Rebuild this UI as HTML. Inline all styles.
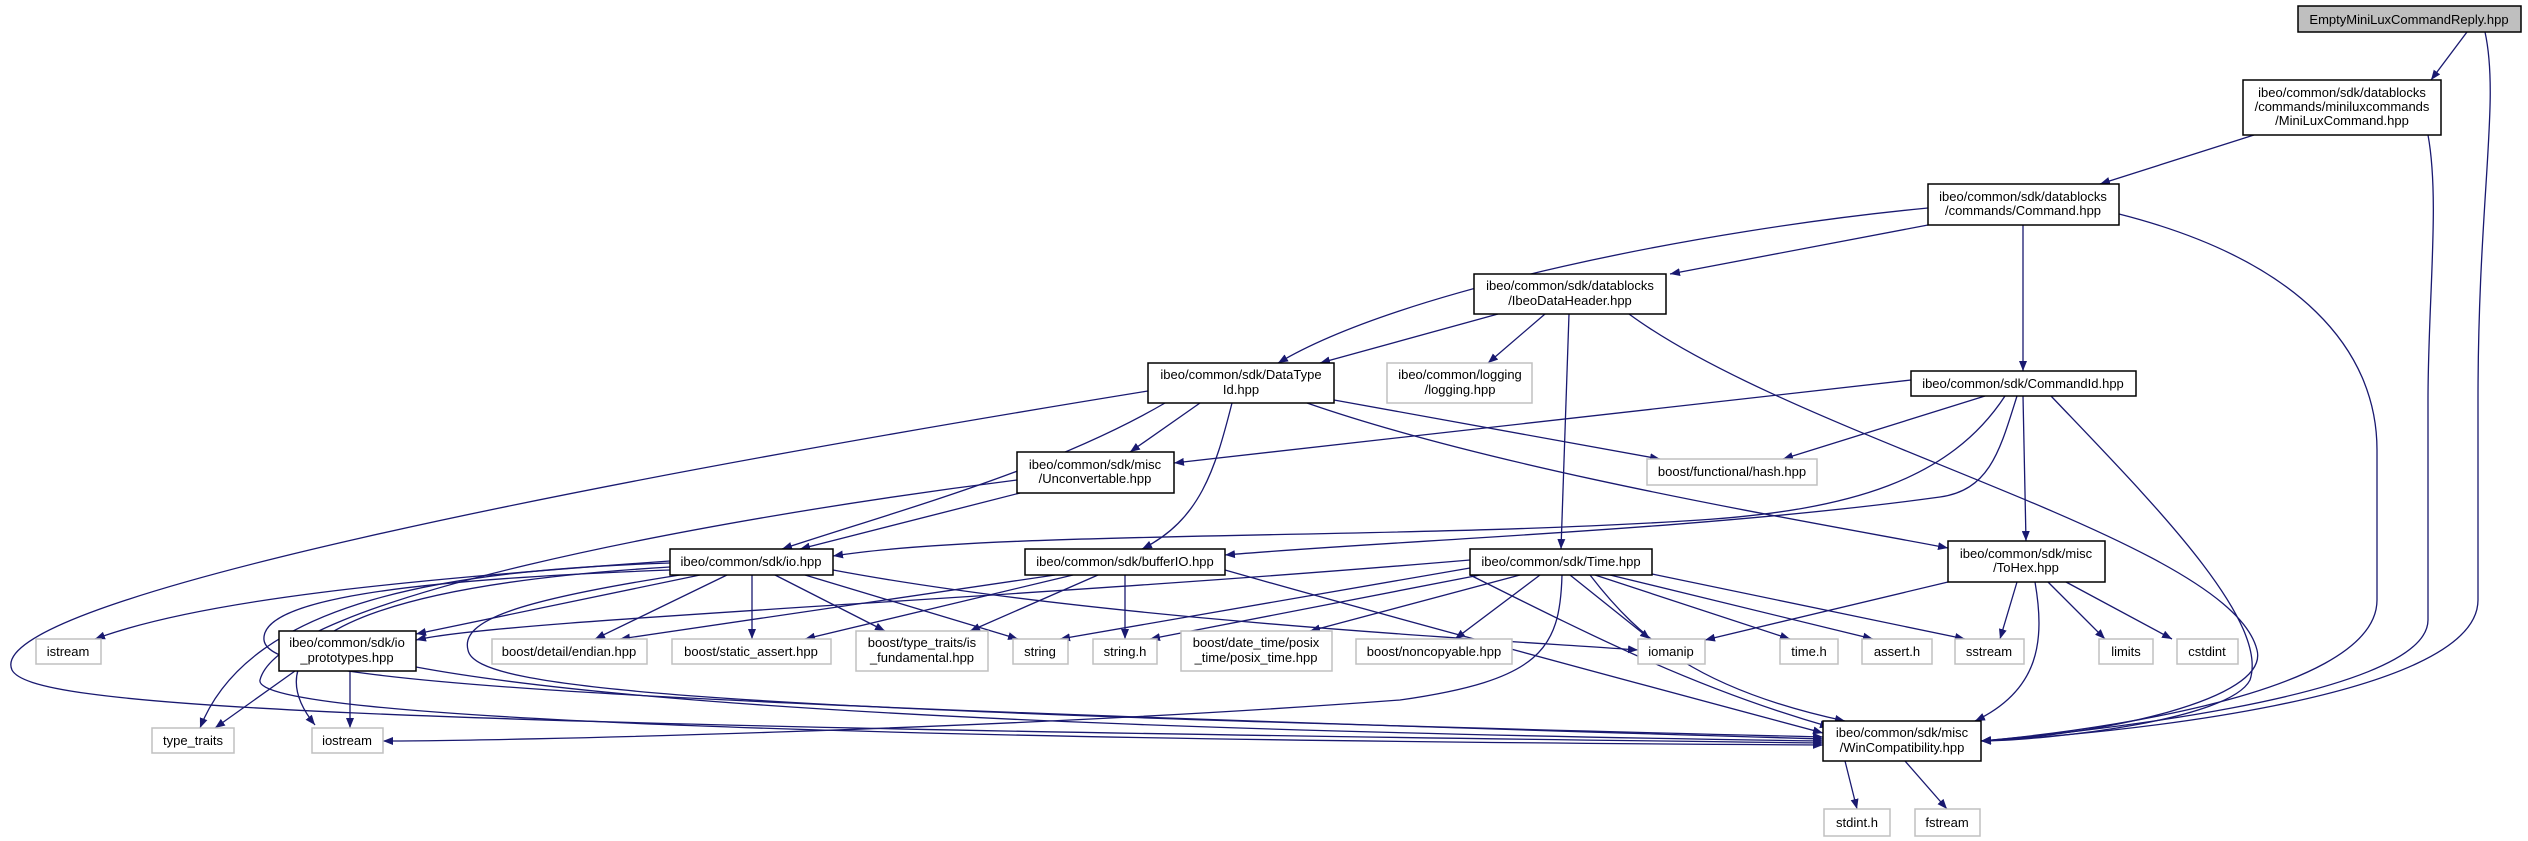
<!DOCTYPE html>
<html><head><meta charset="utf-8"><style>
html,body{margin:0;padding:0;background:#fff;}
svg{display:block;}
text{font-family:"Liberation Sans",sans-serif;font-size:13px;fill:#000;text-anchor:middle;}
.n{fill:#fff;stroke:#000;stroke-width:1.5;}
.g{fill:#fff;stroke:#c0c0c0;stroke-width:1.5;}
.e{fill:none;stroke:#191970;stroke-width:1.3;marker-end:url(#a);}
</style></head><body>
<svg width="2528" height="841" viewBox="0 0 2528 841" xmlns="http://www.w3.org/2000/svg">
<defs><marker id="a" viewBox="0 0 10 8" refX="10" refY="4" markerWidth="10" markerHeight="8" markerUnits="userSpaceOnUse" orient="auto"><path d="M0,0 L10,4 L0,8 z" fill="#191970"/></marker></defs>
<g>
<path class="e" d="M2467,32 L2431,80"/>
<path class="e" d="M2485,32 C2500,100 2478,200 2478,400 L2478,600 C2478,700 2100,735 1981,741"/>
<path class="e" d="M2254,135 L2100,184"/>
<path class="e" d="M2428,135 C2440,200 2428,300 2428,400 L2428,620 C2428,700 2050,735 1981,741"/>
<path class="e" d="M1928,208 C1700,230 1400,290 1278,363"/>
<path class="e" d="M1928,225 L1670,274"/>
<path class="e" d="M2023,225 L2023,371"/>
<path class="e" d="M2119,214 C2300,260 2377,350 2377,450 L2377,600 C2377,700 2050,735 1981,741"/>
<path class="e" d="M1498,314 L1320,363"/>
<path class="e" d="M1545,314 L1488,363"/>
<path class="e" d="M1569,314 L1561,549"/>
<path class="e" d="M1629,314 C1800,440 2230,540 2257,650 C2270,700 2100,735 1981,741"/>
<path class="e" d="M1334,400 L1660,459"/>
<path class="e" d="M1307,403 C1500,470 1800,520 1948,548"/>
<path class="e" d="M1200,403 L1130,452"/>
<path class="e" d="M1165,403 C1050,470 900,510 782,549"/>
<path class="e" d="M1232,403 C1215,470 1200,520 1142,549"/>
<path class="e" d="M1148,391 C600,480 -20,600 12,670 C30,705 300,725 1823,743"/>
<path class="e" d="M1020,493 L800,549"/>
<path class="e" d="M1017,480 C700,520 280,600 260,680 C250,720 900,740 1823,745"/>
<path class="e" d="M1911,380 L1174,463"/>
<path class="e" d="M1985,396 L1783,459"/>
<path class="e" d="M2005,396 C1950,480 1850,510 1700,520 C1400,540 1000,530 833,556"/>
<path class="e" d="M2017,396 C2000,450 1990,490 1940,497 C1700,530 1400,540 1225,555"/>
<path class="e" d="M2023,396 L2026,541"/>
<path class="e" d="M2051,396 C2150,500 2270,620 2250,680 C2230,720 2050,740 1981,741"/>
<path class="e" d="M1948,582 L1705,640"/>
<path class="e" d="M2017,582 L2000,639"/>
<path class="e" d="M2048,582 L2105,639"/>
<path class="e" d="M2066,582 L2172,639"/>
<path class="e" d="M2035,582 C2045,640 2040,690 1975,721"/>
<path class="e" d="M670,561 C400,580 200,600 95,639"/>
<path class="e" d="M700,575 L416,634"/>
<path class="e" d="M727,575 L595,639"/>
<path class="e" d="M752,575 L752,639"/>
<path class="e" d="M775,575 L885,631"/>
<path class="e" d="M805,575 L1018,639"/>
<path class="e" d="M833,570 C1100,620 1500,640 1638,650"/>
<path class="e" d="M670,563 C450,570 250,600 200,728"/>
<path class="e" d="M670,567 C450,580 230,620 315,725"/>
<path class="e" d="M670,570 C400,580 260,600 264,640 C268,680 500,700 1823,739"/>
<path class="e" d="M680,575 C520,600 460,620 468,650 C475,690 700,710 1823,737"/>
<path class="e" d="M1055,575 L620,639"/>
<path class="e" d="M1073,575 L805,639"/>
<path class="e" d="M1098,575 L970,631"/>
<path class="e" d="M1125,575 L1125,639"/>
<path class="e" d="M1225,570 C1400,620 1700,700 1823,733"/>
<path class="e" d="M1470,560 C1000,600 500,620 416,640"/>
<path class="e" d="M1562,575 C1560,650 1540,680 1400,700 C1000,730 500,741 383,741"/>
<path class="e" d="M1470,568 L1060,639"/>
<path class="e" d="M1480,575 L1150,639"/>
<path class="e" d="M1520,575 L1310,631"/>
<path class="e" d="M1540,575 L1455,639"/>
<path class="e" d="M1570,575 L1650,639"/>
<path class="e" d="M1595,575 L1790,639"/>
<path class="e" d="M1610,575 L1873,639"/>
<path class="e" d="M1652,574 L1965,639"/>
<path class="e" d="M1590,575 C1640,640 1700,690 1845,721"/>
<path class="e" d="M1470,575 C1600,640 1700,690 1830,727"/>
<path class="e" d="M295,671 L215,728"/>
<path class="e" d="M350,671 L350,728"/>
<path class="e" d="M416,667 C700,720 1400,735 1823,741"/>
<path class="e" d="M1845,761 L1857,809"/>
<path class="e" d="M1905,761 L1947,809"/>
</g>
<g>
<rect x="2298" y="6" width="223" height="26" fill="#bfbfbf" stroke="#000" stroke-width="1.5"/><text x="2409" y="24">EmptyMiniLuxCommandReply.hpp</text>
<rect class="n" x="2243" y="80" width="198" height="55"/><text x="2342" y="97">ibeo/common/sdk/datablocks</text><text x="2342" y="111">/commands/miniluxcommands</text><text x="2342" y="125">/MiniLuxCommand.hpp</text>
<rect class="n" x="1928" y="184" width="191" height="41"/><text x="2023" y="201">ibeo/common/sdk/datablocks</text><text x="2023" y="215">/commands/Command.hpp</text>
<rect class="n" x="1474" y="274" width="192" height="40"/><text x="1570" y="290">ibeo/common/sdk/datablocks</text><text x="1570" y="305">/IbeoDataHeader.hpp</text>
<rect class="n" x="1148" y="363" width="186" height="40"/><text x="1241" y="379">ibeo/common/sdk/DataType</text><text x="1241" y="394">Id.hpp</text>
<rect class="g" x="1387" y="363" width="145" height="40"/><text x="1460" y="379">ibeo/common/logging</text><text x="1460" y="394">/logging.hpp</text>
<rect class="n" x="1911" y="371" width="225" height="25"/><text x="2023" y="388">ibeo/common/sdk/CommandId.hpp</text>
<rect class="g" x="1647" y="459" width="170" height="26"/><text x="1732" y="476">boost/functional/hash.hpp</text>
<rect class="n" x="1017" y="452" width="157" height="41"/><text x="1095" y="469">ibeo/common/sdk/misc</text><text x="1095" y="483">/Unconvertable.hpp</text>
<rect class="n" x="1948" y="541" width="157" height="41"/><text x="2026" y="558">ibeo/common/sdk/misc</text><text x="2026" y="572">/ToHex.hpp</text>
<rect class="n" x="670" y="549" width="163" height="26"/><text x="751" y="566">ibeo/common/sdk/io.hpp</text>
<rect class="n" x="1025" y="549" width="200" height="26"/><text x="1125" y="566">ibeo/common/sdk/bufferIO.hpp</text>
<rect class="n" x="1470" y="549" width="182" height="26"/><text x="1561" y="566">ibeo/common/sdk/Time.hpp</text>
<rect class="g" x="36" y="639" width="65" height="25"/><text x="68" y="656">istream</text>
<rect class="n" x="279" y="631" width="137" height="40"/><text x="347" y="647">ibeo/common/sdk/io</text><text x="347" y="662">_prototypes.hpp</text>
<rect class="g" x="492" y="639" width="155" height="25"/><text x="569" y="656">boost/detail/endian.hpp</text>
<rect class="g" x="672" y="639" width="159" height="25"/><text x="751" y="656">boost/static_assert.hpp</text>
<rect class="g" x="856" y="631" width="132" height="40"/><text x="922" y="647">boost/type_traits/is</text><text x="922" y="662">_fundamental.hpp</text>
<rect class="g" x="1013" y="639" width="55" height="25"/><text x="1040" y="656">string</text>
<rect class="g" x="1093" y="639" width="64" height="25"/><text x="1125" y="656">string.h</text>
<rect class="g" x="1181" y="631" width="151" height="40"/><text x="1256" y="647">boost/date_time/posix</text><text x="1256" y="662">_time/posix_time.hpp</text>
<rect class="g" x="1356" y="639" width="156" height="25"/><text x="1434" y="656">boost/noncopyable.hpp</text>
<rect class="g" x="1638" y="639" width="67" height="25"/><text x="1671" y="656">iomanip</text>
<rect class="g" x="1780" y="639" width="58" height="25"/><text x="1809" y="656">time.h</text>
<rect class="g" x="1862" y="639" width="70" height="25"/><text x="1897" y="656">assert.h</text>
<rect class="g" x="1955" y="639" width="69" height="25"/><text x="1989" y="656">sstream</text>
<rect class="g" x="2099" y="639" width="54" height="25"/><text x="2126" y="656">limits</text>
<rect class="g" x="2177" y="639" width="61" height="25"/><text x="2207" y="656">cstdint</text>
<rect class="g" x="152" y="728" width="82" height="25"/><text x="193" y="745">type_traits</text>
<rect class="g" x="312" y="728" width="71" height="25"/><text x="347" y="745">iostream</text>
<rect class="n" x="1823" y="721" width="158" height="40"/><text x="1902" y="737">ibeo/common/sdk/misc</text><text x="1902" y="752">/WinCompatibility.hpp</text>
<rect class="g" x="1824" y="809" width="66" height="27"/><text x="1857" y="827">stdint.h</text>
<rect class="g" x="1915" y="809" width="65" height="27"/><text x="1947" y="827">fstream</text>
</g>
</svg>
</body></html>
